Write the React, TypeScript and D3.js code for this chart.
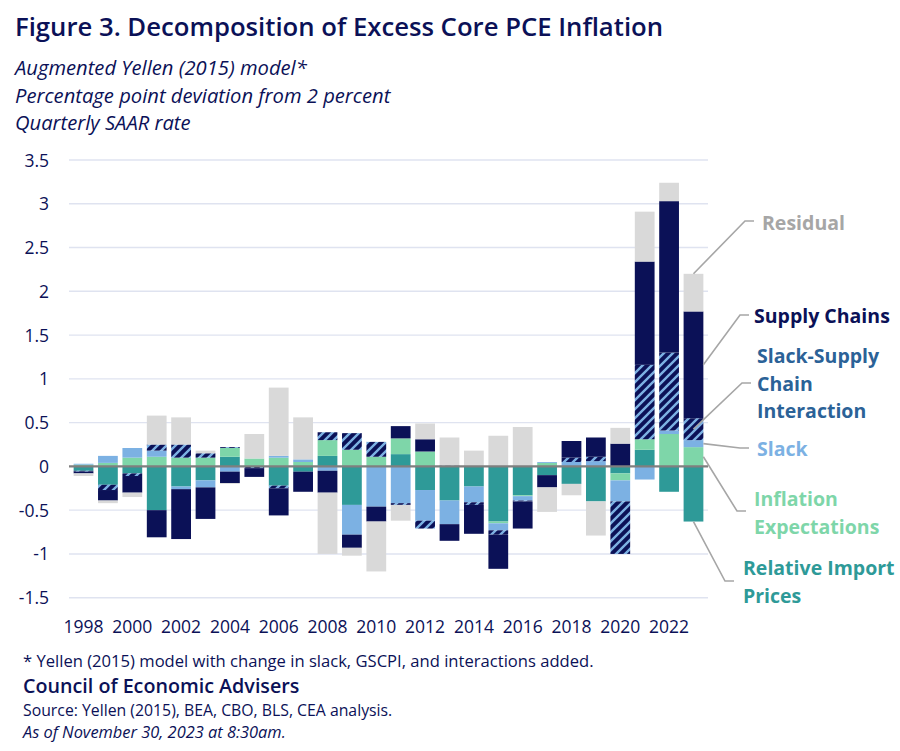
import * as d3 from 'd3';

// years on the x axis
const years = [
  '1998', '1999', '2000', '2001', '2002', '2003', '2004', '2005', '2006', '2007',
  '2008', '2009', '2010', '2011', '2012', '2013', '2014', '2015', '2016', '2017',
  '2018', '2019', '2020', '2021', '2022', '2023',
];

// contributions, percentage points
const importPrices = [
  -0.05, -0.21, -0.08, -0.5, -0.23, -0.16, 0.11, 0, -0.22, -0.06,
  0.12, -0.44, 0, 0.14, -0.27, -0.39, -0.23, -0.63, -0.33, -0.1,
  -0.2, -0.4, -0.08, 0.19, -0.29, -0.63,
];
const expectations = [
  0.02, 0.04, 0.1, 0.11, 0.1, 0.1, 0.1, 0.09, 0.1, 0.05,
  0.18, 0.19, 0.11, 0.18, 0.17, 0, 0, -0.02, -0.01, 0.04,
  0, 0, -0.08, 0.12, 0.37, 0.22,
];
const slack = [
  0.01, 0.08, 0.11, 0.07, -0.03, -0.08, -0.06, 0, 0.02, 0.03,
  -0.05, -0.34, -0.46, -0.42, -0.35, -0.27, -0.18, -0.08, -0.05, 0.01,
  0.05, 0.06, -0.24, -0.15, 0.04, 0.08,
];
const interaction = [
  -0.01, -0.06, -0.03, 0.07, 0.15, 0.05, 0.01, -0.02, -0.03, 0,
  0.09, 0.19, 0.17, -0.02, -0.09, 0.01, -0.03, -0.05, -0.01, 0,
  0.05, 0.05, -0.6, 0.85, 0.89, 0.25,
];
const supplyChains = [
  -0.02, -0.12, -0.19, -0.31, -0.57, -0.36, -0.13, -0.1, -0.31, -0.23,
  -0.25, -0.15, -0.17, 0.14, 0.14, -0.19, -0.33, -0.39, -0.31, -0.14,
  0.19, 0.22, 0.26, 1.18, 1.73, 1.22,
];
const residual = [
  -0.03, -0.03, -0.05, 0.33, 0.31, 0.03, -0.01, 0.28, 0.78, 0.48,
  -0.7, -0.09, -0.57, -0.18, 0.18, 0.32, 0.18, 0.35, 0.45, -0.28,
  -0.13, -0.39, 0.18, 0.57, 0.21, 0.43,
];

const yTicks = [-1.5, -1, -0.5, 0, 0.5, 1, 1.5, 2, 2.5, 3, 3.5];
const xLabels = ['1998', '2000', '2002', '2004', '2006', '2008', '2010', '2012', '2014', '2016', '2018', '2020', '2022'];

const NAVY = '#0B1157';
const TEAL = '#2E9A98';
const GREEN = '#7ED6A9';
const BLUE = '#7CB1E3';
const GREY = '#D9D9D9';

const keys = ['importPrices', 'expectations', 'slack', 'interaction', 'supplyChains', 'residual'];
const fills: Record<string, string> = {
  importPrices: TEAL,
  expectations: GREEN,
  slack: BLUE,
  interaction: 'url(#hatch)',
  supplyChains: NAVY,
  residual: GREY,
};

const FONT = '"Open Sans", "Noto Sans", sans-serif';

export default function App() {
  const width = 900;
  const height = 751;

  const rows = years.map((year, i) => ({
    year,
    importPrices: importPrices[i],
    expectations: expectations[i],
    slack: slack[i],
    interaction: interaction[i],
    supplyChains: supplyChains[i],
    residual: residual[i],
  }));

  const stacked = d3.stack<any>()
    .keys(keys)
    .offset(d3.stackOffsetDiverging)(rows);

  const x = d3.scaleBand<string>()
    .domain(years)
    .range([69, 708])
    .padding(0.19);

  const y = d3.scaleLinear()
    .domain([-1.5, 3.5])
    .range([597.7, 160]);

  const bw = x.bandwidth();

  // leader line anchors on the last bar
  const last = years.length - 1;
  const seg = (k: string) => stacked[keys.indexOf(k)][last];
  const x0 = x(years[last])!;
  const mid = (k: string) => y((seg(k)[0] + seg(k)[1]) / 2);

  const callouts = [
    { key: 'residual', sx: x0 + bw / 2, sy: y(seg('residual')[1]), ex: 745, ey: 221, tx: 762, lines: ['Residual'], by: 230, color: '#A6A6A6' },
    { key: 'supplyChains', sx: x0 + bw, sy: mid('supplyChains'), ex: 740, ey: 315, tx: 754, lines: ['Supply Chains'], by: 323, color: NAVY },
    { key: 'interaction', sx: x0 + bw / 2, sy: mid('interaction'), ex: 742, ey: 383, tx: 757, lines: ['Slack-Supply', 'Chain', 'Interaction'], by: 363, color: '#2B6297' },
    { key: 'slack', sx: x0 + bw, sy: mid('slack'), ex: 740, ey: 448, tx: 757, lines: ['Slack'], by: 456, color: BLUE },
    { key: 'expectations', sx: x0 + bw, sy: mid('expectations'), ex: 737, ey: 511, tx: 754, lines: ['Inflation', 'Expectations'], by: 506, color: GREEN },
    { key: 'importPrices', sx: x0 + bw / 2, sy: y(seg('importPrices')[0]), ex: 725, ey: 581, tx: 743, lines: ['Relative Import', 'Prices'], by: 575, color: TEAL },
  ];

  return (
    <svg
      width={width}
      height={height}
      style={{ position: 'absolute', left: 0, top: 0, display: 'block', background: '#fff' }}
      fontFamily={FONT}
    >
      <defs>
        <pattern id="hatch" patternUnits="userSpaceOnUse" width="9" height="9">
          <rect width="9" height="9" fill={NAVY} />
          <path d="M-2.25,2.25 L2.25,-2.25 M0,9 L9,0 M6.75,11.25 L11.25,6.75" stroke={BLUE} strokeWidth="2.4" />
        </pattern>
      </defs>

      {/* title block */}
      <text x={15} y={36} fill={NAVY} fontSize={25.7} fontWeight={600}>
        Figure 3. Decomposition of Excess Core PCE Inflation
      </text>
      <g fill={NAVY} fontSize={20.2} fontStyle="italic">
        <text x={15} y={75}>Augmented Yellen (2015) model*</text>
        <text x={15} y={103}>Percentage point deviation from 2 percent</text>
        <text x={15} y={130}>Quarterly SAAR rate</text>
      </g>

      {/* grid */}
      <g>
        {yTicks.filter(t => t !== 0).map(t => (
          <line key={t} x1={69} x2={708} y1={y(t)} y2={y(t)} stroke="#DFE3F0" strokeWidth={1.4} />
        ))}
      </g>

      {/* y labels */}
      <g fill={NAVY} fontSize={17.5} textAnchor="end">
        {yTicks.map(t => (
          <text key={t} x={49} y={y(t) + 6.5}>{t}</text>
        ))}
      </g>

      {/* bars */}
      {stacked.map(series => (
        <g key={series.key} fill={fills[series.key]}>
          {series.map((d, i) => {
            const top = y(Math.max(d[0], d[1]));
            const bot = y(Math.min(d[0], d[1]));
            if (bot - top <= 0) return null;
            return <rect key={years[i]} x={x(years[i])} y={top} width={bw} height={bot - top} />;
          })}
        </g>
      ))}

      {/* zero line */}
      <line x1={69} x2={708} y1={y(0)} y2={y(0)} stroke="#7F7F7F" strokeWidth={2.2} />

      {/* x labels */}
      <g fill={NAVY} fontSize={17.5} textAnchor="middle">
        {xLabels.map(l => (
          <text key={l} x={x(l)! + bw / 2} y={633}>{l}</text>
        ))}
      </g>

      {/* callouts */}
      {callouts.map(c => (
        <g key={c.key}>
          <polyline
            points={`${c.sx},${c.sy} ${c.ex},${c.ey} ${c.ex + 9},${c.ey}`}
            fill="none"
            stroke="#A6A6A6"
            strokeWidth={1.6}
          />
          {c.lines.map((l, j) => (
            <text key={l} x={c.tx} y={c.by + j * 27.5} fill={c.color} fontSize={19.5} fontWeight={700}>
              {l}
            </text>
          ))}
        </g>
      ))}

      {/* footer */}
      <text x={23} y={667} fill={NAVY} fontSize={16.6}>
        * Yellen (2015) model with change in slack, GSCPI, and interactions added.
      </text>
      <text x={23} y={693} fill={NAVY} fontSize={19.7} fontWeight={600}>
        Council of Economic Advisers
      </text>
      <text x={23} y={716} fill={NAVY} fontSize={15.8}>
        Source: Yellen (2015), BEA, CBO, BLS, CEA analysis.
      </text>
      <text x={23} y={738} fill={NAVY} fontSize={16.4} fontStyle="italic">
        As of November 30, 2023 at 8:30am.
      </text>
    </svg>
  );
}
